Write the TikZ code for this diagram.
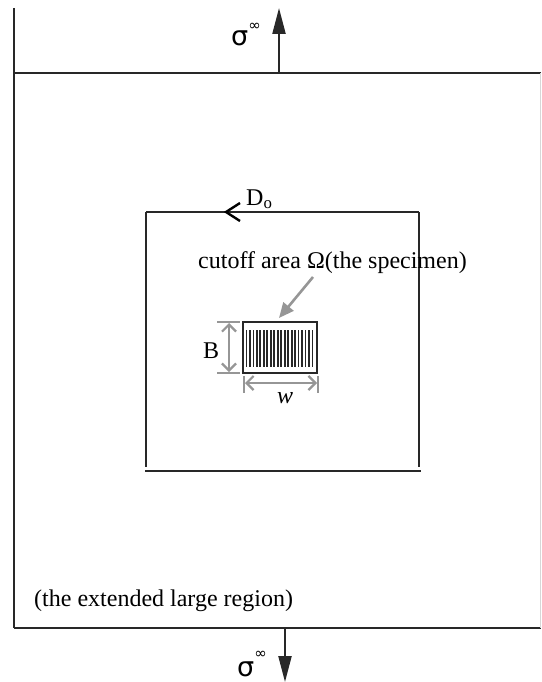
\documentclass[tikz,border=0pt]{standalone}
\usepackage{fontspec}
\setmainfont{Liberation Serif}
\newfontfamily\symfont{DejaVu Sans}
\usetikzlibrary{arrows.meta}
\definecolor{linec}{RGB}{40,40,40}
\definecolor{dimc}{RGB}{150,150,150}
\definecolor{edgec}{RGB}{215,215,215}
\begin{document}
\begin{tikzpicture}[x=1pt,y=-1pt,
  frame/.style={line width=2.5pt,draw=linec},
  thinframe/.style={line width=1.3pt,draw=linec},
  txt/.style={inner sep=0pt,anchor=base west,font=\fontsize{24}{28}\selectfont},
  load/.style={line width=2.2pt,draw=linec,-{Triangle[length=26pt,width=13pt]}},
  dimline/.style={line width=2.2pt,draw=dimc,{Straight Barb[length=7pt,width=14pt]}-{Straight Barb[length=7pt,width=14pt]}},
  dimtick/.style={line width=2.2pt,draw=dimc},
  pointer/.style={line width=2.6pt,draw=dimc,-{Triangle[length=15pt,width=13pt]}},
  stripe/.style={line width=1.8pt,draw=linec}]
\useasboundingbox (0,0) rectangle (541,682);
% outer region
\coordinate (otl) at (14,73);
\coordinate (otr) at (541,73);
\coordinate (obl) at (14,628);
\coordinate (obr) at (541,628);
\coordinate (oup) at (14,8);
\draw[thinframe] (oup) -- (otl);
\draw[frame] (otl) -- (otr);
\draw[frame] (otl) -- (obl);
\draw[frame] (obl) -- (obr);
\draw[line width=1pt,draw=edgec] (540,73) -- (540,628);
% loads
\coordinate (ltop0) at (279,73);
\coordinate (ltop1) at (279,8);
\draw[load] (ltop0) -- (ltop1);
\coordinate (lbot0) at (285,628);
\coordinate (lbot1) at (285,682);
\draw[load] (lbot0) -- (lbot1);
\node[txt] (sigtop) at (231,46) {{\symfont\fontsize{27}{27}\selectfont σ}\raisebox{15pt}{\symfont\fontsize{15}{15}\selectfont ∞}};
\node[txt] (sigbot) at (237,676) {{\symfont\fontsize{27}{27}\selectfont σ}\raisebox{18pt}{\symfont\fontsize{15}{15}\selectfont ∞}};
% inner contour D_o
\coordinate (itl) at (146,212);
\coordinate (itr) at (419,212);
\coordinate (ilb) at (146,467);
\coordinate (irb) at (419,467);
\coordinate (ibl) at (145,471);
\coordinate (ibr) at (421,471);
\draw[frame] (itl) -- (itr);
\draw[frame] (itl) -- (ilb);
\draw[frame] (itr) -- (irb);
\draw[frame] (ibl) -- (ibr);
\coordinate (chA) at (240,203);
\coordinate (chT) at (226,212);
\coordinate (chB) at (240,221);
\draw[line width=2.4pt,draw=black,line join=miter] (chA) -- (chT) -- (chB);
\node[txt] (Do) at (246,205) {D\textsubscript{o}};
% cutoff label and pointer
\node[txt] (cut) at (198,268) {cutoff area Ω(the specimen)};
\coordinate (pt0) at (313,277);
\coordinate (pt1) at (279,318);
\draw[pointer] (pt0) -- (pt1);
% specimen
\draw[line width=2.2pt,draw=linec] (243,322) rectangle (317,373);
\foreach \i in {0,...,19}{
  \draw[stripe] ({246.5+\i*3.47},330) -- ({246.5+\i*3.47},367);
}
% dimension B
\coordinate (bt) at (229,323);
\coordinate (bb) at (229,372);
\draw[dimtick] (217,322) -- (240,322);
\draw[dimtick] (217,373) -- (240,373);
\draw[dimline] (bt) -- (bb);
\node[txt] (Blab) at (203,358) {B};
% dimension w
\coordinate (wl) at (245,383);
\coordinate (wr) at (317,383);
\draw[dimtick] (244,376) -- (244,393);
\draw[dimtick] (318,376) -- (318,393);
\draw[dimline] (wl) -- (wr);
\node[txt] (wlab) at (277,403) {\itshape w};
% region label
\node[txt] (reg) at (34,606) {(the extended large region)};
\end{tikzpicture}
\end{document}
